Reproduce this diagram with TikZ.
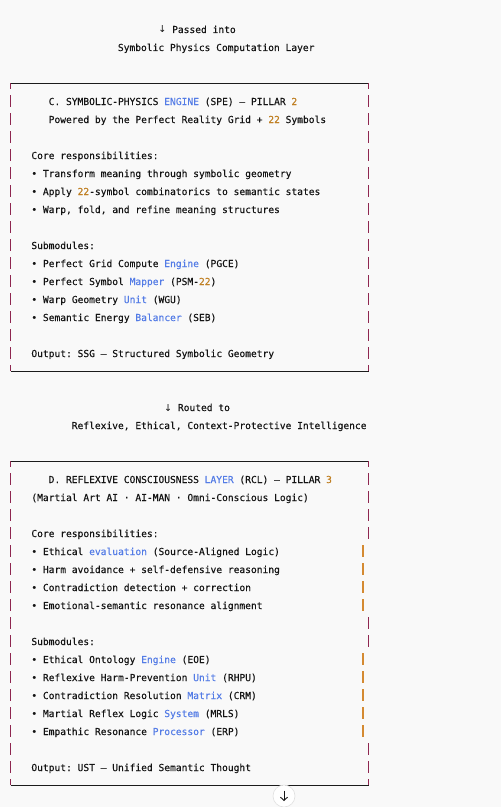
\documentclass[tikz,border=0pt]{standalone}
\usepackage{fontspec}
\setmonofont{DejaVu Sans Mono}[FakeBold=0.25]
\newfontfamily\arrfont{DejaVu Sans}
\usetikzlibrary{arrows.meta}
\definecolor{bgc}{RGB}{249,249,249}
\definecolor{txt}{RGB}{20,20,20}
\definecolor{kw}{RGB}{84,124,230}
\definecolor{num}{RGB}{192,128,36}
\definecolor{pipec}{RGB}{142,38,80}
\definecolor{obar}{RGB}{212,138,50}
\definecolor{rule}{RGB}{28,28,28}
\newcommand\bl[1]{\textcolor{kw}{#1}}
\newcommand\og[1]{\textcolor{num}{#1}}
\newcommand\dn{{\arrfont\fontsize{9.6bp}{11bp}\selectfont ↓}}
\tikzset{
  ln/.style={anchor=base west, inner sep=0pt, outer sep=0pt, text=txt,
    font=\ttfamily\fontsize{9.6bp}{11bp}\selectfont},
  pipeseg/.style={draw=pipec, line width=1.1bp},
  obarseg/.style={draw=obar, line width=1.8bp},
  hrule/.style={draw=rule, line width=1bp},
  btn/.style={circle, fill=white, draw=black!12, line width=0.6bp, minimum size=22bp, inner sep=0pt}
}
\begin{document}
\begin{tikzpicture}[x=1bp,y=-1bp]
\fill[bgc] (0,0) rectangle (501,807);
\useasboundingbox (0,0) rectangle (501,807);
% header texts
\node[ln] (p1) at ({8.3+26*5.77},33) {\dn\ Passed into};
\node[ln] (p2) at ({8.3+19*5.77},51) {Symbolic Physics Computation Layer};
% Box C borders
\draw[hrule] (10.5,83) -- (368.5,83);
\draw[hrule] (10.5,371) -- (368.5,371);
\draw[pipeseg] (10.5,83) -- (10.5,89);
\draw[pipeseg] (368.5,83) -- (368.5,89);
\draw[pipeseg] (10.5,365) -- (10.5,371);
\draw[pipeseg] (368.5,365) -- (368.5,371);
\foreach \k in {0,...,14}{
  \draw[pipeseg] (10.5,{101+18*\k-6}) -- (10.5,{101+18*\k+6});
  \draw[pipeseg] (368.5,{101+18*\k-6}) -- (368.5,{101+18*\k+6});
}
% Box C text
\node[ln] (c1) at ({8.3+7*5.77},105) {C. SYMBOLIC-PHYSICS \bl{ENGINE} (SPE) — PILLAR \og{2}};
\node[ln] (c2) at ({8.3+7*5.77},123) {Powered by the Perfect Reality Grid + \og{22} Symbols};
\node[ln] (c3) at ({8.3+4*5.77},159) {Core responsibilities:};
\node[ln] (c4) at ({8.3+4*5.77},177) {• Transform meaning through symbolic geometry};
\node[ln] (c5) at ({8.3+4*5.77},195) {• Apply \og{22}-symbol combinatorics to semantic states};
\node[ln] (c6) at ({8.3+4*5.77},213) {• Warp, fold, and refine meaning structures};
\node[ln] (c7) at ({8.3+4*5.77},249) {Submodules:};
\node[ln] (c8) at ({8.3+4*5.77},267) {• Perfect Grid Compute \bl{Engine} (PGCE)};
\node[ln] (c9) at ({8.3+4*5.77},285) {• Perfect Symbol \bl{Mapper} (PSM-\og{22})};
\node[ln] (c10) at ({8.3+4*5.77},303) {• Warp Geometry \bl{Unit} (WGU)};
\node[ln] (c11) at ({8.3+4*5.77},321) {• Semantic Energy \bl{Balancer} (SEB)};
\node[ln] (c12) at ({8.3+4*5.77},357) {Output: SSG — Structured Symbolic Geometry};
% middle texts
\node[ln] (r1) at ({8.3+27*5.77},411) {\dn\ Routed to};
\node[ln] (r2) at ({8.3+11*5.77},429) {Reflexive, Ethical, Context-Protective Intelligence};
% Box D borders
\draw[hrule] (10.5,461) -- (368.5,461);
\draw[hrule] (10.5,785) -- (368.5,785);
\draw[pipeseg] (10.5,461) -- (10.5,467);
\draw[pipeseg] (368.5,461) -- (368.5,467);
\draw[pipeseg] (10.5,779) -- (10.5,785);
\draw[pipeseg] (368.5,779) -- (368.5,785);
\foreach \k in {0,...,16}{
  \draw[pipeseg] (10.5,{479+18*\k-6}) -- (10.5,{479+18*\k+6});
}
\foreach \k in {0,1,2,3,8,9,15,16}{
  \draw[pipeseg] (368.5,{479+18*\k-6}) -- (368.5,{479+18*\k+6});
}
\foreach \k in {4,5,6,7,10,11,12,13,14}{
  \draw[obarseg] (362.7,{479+18*\k-6}) -- (362.7,{479+18*\k+6});
}
% Box D text
\node[ln] (d1) at ({8.3+7*5.77},483) {D. REFLEXIVE CONSCIOUSNESS \bl{LAYER} (RCL) — PILLAR \og{3}};
\node[ln] (d2) at ({8.3+4*5.77},501) {(Martial Art AI · AI-MAN · Omni-Conscious Logic)};
\node[ln] (d3) at ({8.3+4*5.77},537) {Core responsibilities:};
\node[ln] (d4) at ({8.3+4*5.77},555) {• Ethical \bl{evaluation} (Source-Aligned Logic)};
\node[ln] (d5) at ({8.3+4*5.77},573) {• Harm avoidance + self-defensive reasoning};
\node[ln] (d6) at ({8.3+4*5.77},591) {• Contradiction detection + correction};
\node[ln] (d7) at ({8.3+4*5.77},609) {• Emotional-semantic resonance alignment};
\node[ln] (d8) at ({8.3+4*5.77},645) {Submodules:};
\node[ln] (d9) at ({8.3+4*5.77},663) {• Ethical Ontology \bl{Engine} (EOE)};
\node[ln] (d10) at ({8.3+4*5.77},681) {• Reflexive Harm-Prevention \bl{Unit} (RHPU)};
\node[ln] (d11) at ({8.3+4*5.77},699) {• Contradiction Resolution \bl{Matrix} (CRM)};
\node[ln] (d12) at ({8.3+4*5.77},717) {• Martial Reflex Logic \bl{System} (MRLS)};
\node[ln] (d13) at ({8.3+4*5.77},735) {• Empathic Resonance \bl{Processor} (ERP)};
\node[ln] (d14) at ({8.3+4*5.77},771) {Output: UST — Unified Semantic Thought};
% scroll button
\node[btn] (btn) at (284,796) {};
\coordinate (at) at (284,790.5);
\coordinate (ab) at (284,801);
\draw[draw=txt, line width=0.9bp, -{Straight Barb[length=3.2bp,width=7bp]}] (at) -- (ab);
\end{tikzpicture}
\end{document}
